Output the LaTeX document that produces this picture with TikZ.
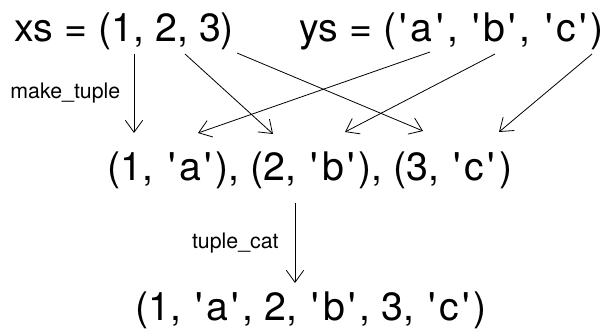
\documentclass[tikz,border=0pt]{standalone}
\usepackage{fontspec}
\newfontfamily\hvfont{TeX Gyre Heros}
\usetikzlibrary{arrows.meta}
\newcommand\qmark{\makebox[0.37em]{'}}
\tikzset{
  big/.style={font=\hvfont\fontsize{29.5}{34}\selectfont, inner sep=0pt},
  small/.style={font=\hvfont\fontsize{16}{19}\selectfont, inner sep=0pt},
  maps/.style={-{Straight Barb[length=9pt,width=13pt]}, line width=0.6pt}
}
\begin{document}
\begin{tikzpicture}[x=0.75pt,y=-0.75pt]
\useasboundingbox (0,0) rectangle (606,331);

\node[big,anchor=base west] (xs) at (14,42) {xs = (1, 2, 3)};
\node[big,anchor=base east] (ys) at (604,42) {ys = (\qmark a\qmark, \qmark b\qmark, \qmark c\qmark)};
\node[big,anchor=base] (pairs) at (310,181) {(1, \qmark a\qmark), (2, \qmark b\qmark), (3, \qmark c\qmark)};
\node[big,anchor=base] (flat) at (311,320) {(1, \qmark a\qmark, 2, \qmark b\qmark, 3, \qmark c\qmark)};

% ends of the zip arrows
\coordinate (x1) at (134,54);
\coordinate (x2) at (185,54);
\coordinate (x3) at (237,53);
\coordinate (ya) at (430,52);
\coordinate (yb) at (495,54);
\coordinate (yc) at (592,54);
\coordinate (p1) at (134,133);
\coordinate (pa) at (198,133);
\coordinate (p2) at (273,134);
\coordinate (pb) at (345,132);
\coordinate (p3) at (423,131);
\coordinate (pc) at (499,132);

\draw[maps] (x1) -- node[small,left=10pt] (mk) {make\_tuple} (p1);
\draw[maps] (x2) -- (p2);
\draw[maps] (x3) -- (p3);
\draw[maps] (ya) -- (pa);
\draw[maps] (yb) -- (pb);
\draw[maps] (yc) -- (pc);

\coordinate (c0) at (295,203);
\coordinate (c1) at (295,283);
\draw[maps] (c0) -- node[small,left=12pt] (cat) {tuple\_cat} (c1);
\end{tikzpicture}
\end{document}
